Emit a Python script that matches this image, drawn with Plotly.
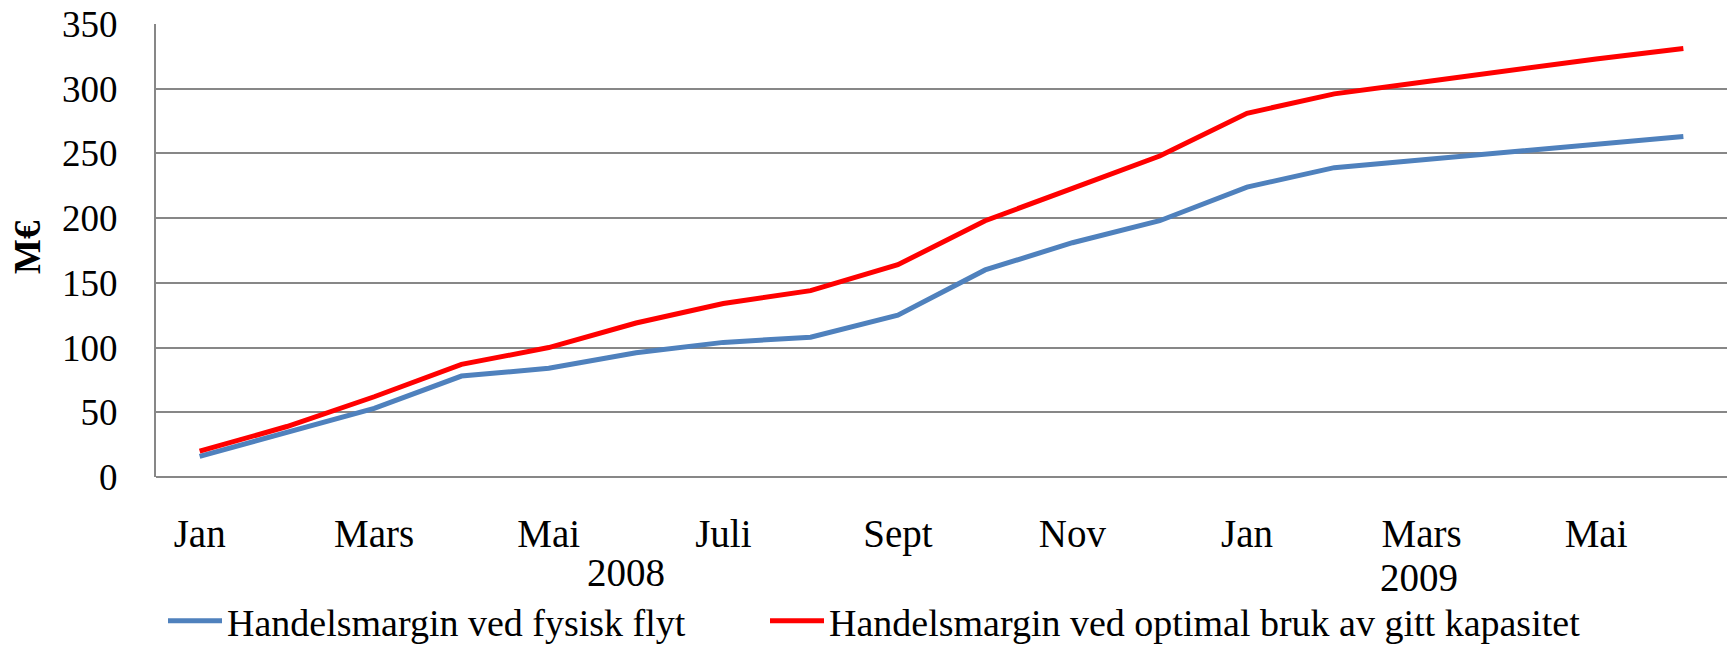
import plotly.graph_objects as go

months = ["Jan", "Feb", "Mars", "April", "Mai", "Juni", "Juli", "Aug", "Sept", "Okt", "Nov", "Des",
          "Jan", "Feb", "Mars", "April", "Mai", "Juni"]
tick_labels = ["Jan", "Mars", "Mai", "Juli", "Sept", "Nov", "Jan", "Mars", "Mai"]
years = ["2008", "2009"]
fysisk = [16, 34, 53, 78, 84, 96, 104, 108, 125, 160, 181, 198, 224, 239, 245, 251, 257, 263]
optimal = [20, 39, 62, 87, 100, 119, 134, 144, 164, 198, 223, 248, 281, 296, 305, 314, 323, 331]
series_names = ["Handelsmargin ved fysisk flyt", "Handelsmargin ved optimal bruk av gitt kapasitet"]

FONT = "Liberation Serif, Times New Roman, serif"
idx = list(range(len(months)))

fig = go.Figure()
fig.add_trace(go.Scatter(x=idx, y=fysisk, mode="lines", name=series_names[0],
                         line=dict(color="#4F81BD", width=5), legend="legend"))
fig.add_trace(go.Scatter(x=idx, y=optimal, mode="lines", name=series_names[1],
                         line=dict(color="#FF0000", width=5), legend="legend2"))

W, H = 1733, 647
L, R, T, B = 156, 6, 24, 170
pw, ph = W - L - R, H - T - B

leg_common = dict(orientation="h", xanchor="left", yanchor="middle", y=(H - B - 621) / ph,
                  font=dict(size=38, family=FONT), itemwidth=54, bgcolor="rgba(0,0,0,0)")

fig.update_layout(
    width=W, height=H,
    margin=dict(l=L, r=R, t=T, b=B, autoexpand=False),
    paper_bgcolor="white", plot_bgcolor="white",
    font=dict(family=FONT, size=38, color="black"),
    showlegend=True,
    legend=dict(x=(163 - L) / pw, **leg_common),
    legend2=dict(x=(765 - L) / pw, **leg_common),
    xaxis=dict(range=[-0.5, len(months) - 0.5], tickvals=idx[::2], ticktext=tick_labels,
               showgrid=False, zeroline=False, showline=False, ticks="",
               tickfont=dict(size=39, family=FONT), ticklabelstandoff=30),
    yaxis=dict(range=[0, 350], tickvals=list(range(0, 351, 50)), showgrid=True,
               gridcolor="#878787", gridwidth=2, zeroline=True, zerolinecolor="#878787", zerolinewidth=2,
               showline=True, linecolor="#878787", linewidth=2, ticks="",
               tickfont=dict(size=37, family=FONT), ticklabelstandoff=29),
)

fig.add_annotation(text="<b>M€</b>", textangle=-90, xref="paper", yref="paper",
                   x=(28 - L) / pw, y=(H - B - 247) / ph, xanchor="center", yanchor="middle",
                   showarrow=False, font=dict(size=37, family=FONT))
year_pos = [4.88, 13.97]
year_y = [572, 577]
for yr, xp, yp in zip(years, year_pos, year_y):
    fig.add_annotation(text=yr, xref="x", yref="paper", x=xp, y=(H - B - yp) / ph,
                       xanchor="center", yanchor="middle", showarrow=False,
                       font=dict(size=39, family=FONT))

fig.write_html("out.html", config={"displayModeBar": False},
               post_script="document.body.style.margin='0px';")
